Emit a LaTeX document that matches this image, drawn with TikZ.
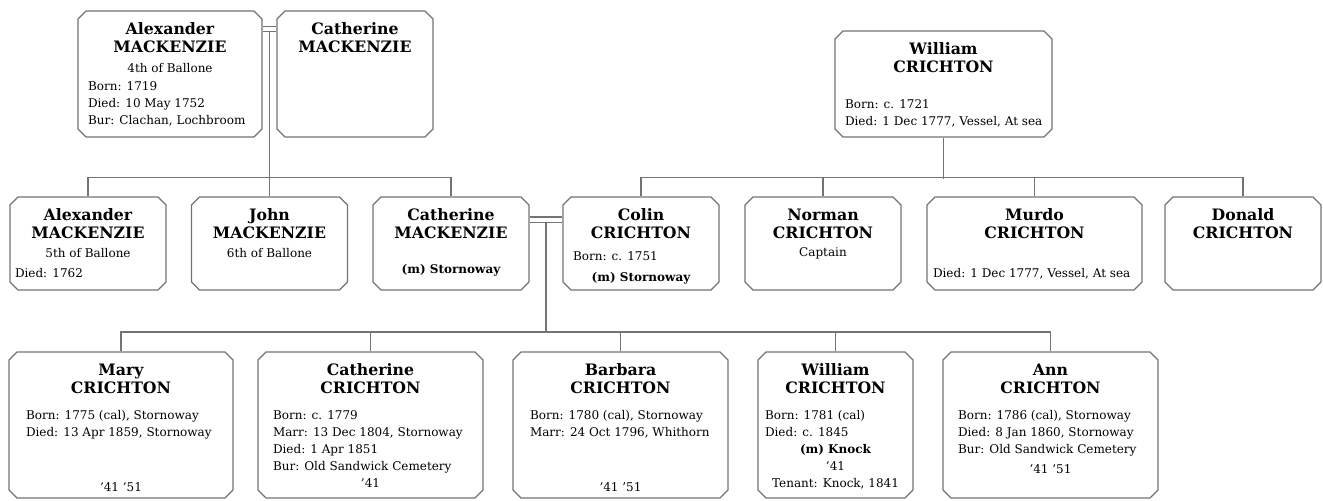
\documentclass[tikz,border=0pt]{standalone}
\usepackage{fontspec}
\setmainfont{DejaVu Serif}
\usetikzlibrary{shapes.misc}

\newcommand{\namefont}{\fontsize{11.8}{14}\selectfont\bfseries}
\newcommand{\infofont}{\fontsize{9}{12.75}\selectfont}
% card body, width and height given in image pixels (chamfer adds 4px all round)
\newcommand{\card}[3]{\parbox[c][\dimexpr(#2pt-8pt)*3/4\relax][t]{\dimexpr(#1pt-8pt)*3/4\relax}{\centering#3\par}}
\newcommand{\pname}[2]{{\namefont\rule{0pt}{14.25pt}#1\\#2\par}}
\newcommand{\ctrline}[1]{{\centering#1\par}}
\newcommand{\info}[2]{{\leftskip=\dimexpr(#1pt-4pt)*3/4\relax\rightskip=-3em plus 1fil #2\par}}

\begin{document}
\begin{tikzpicture}[x=0.75pt, y=-0.75pt,
    person/.style={chamfered rectangle, chamfered rectangle sep=3pt,
      draw=black!55, line width=0.9pt, inner sep=0pt},
    link/.style={draw=black!55, line width=0.9pt},
    couple/.style={link, double=white, double distance=3pt}
  ]
  \useasboundingbox (0,0) rectangle (1323,500);

  % Mackenzie parents
  \node[person] (amack) at (170,74) {\card{184}{126}{\pname{Alexander}{MACKENZIE}
    \vspace{2.25pt}\infofont\ctrline{4th of Ballone}\vspace{0.75pt}
    \info{10}{Born: 1719\\Died: 10 May 1752\\Bur: Clachan, Lochbroom}}};
  \node[person] (cmack) at (355,74) {\card{156}{126}{\pname{Catherine}{MACKENZIE}}};

  % Crichton father
  \node[person] (wcri) at (943.5,84) {\card{217}{106}{\pname{William}{CRICHTON}
    \vspace{14.25pt}\infofont
    \info{10}{Born: c. 1721\\Died: 1 Dec 1777, Vessel, At sea}}};

  % Second row
  \node[person] (amack5) at (88,243.5) {\card{156}{93}{\pname{Alexander}{MACKENZIE}
    \vspace{1.5pt}\infofont\ctrline{5th of Ballone}\vspace{2.25pt}
    \info{5}{Died: 1762}}};
  \node[person] (jmack) at (269.5,243.5) {\card{156}{93}{\pname{John}{MACKENZIE}
    \vspace{1.5pt}\infofont\ctrline{6th of Ballone}}};
  \node[person] (cmack2) at (451,243.5) {\card{156}{93}{\pname{Catherine}{MACKENZIE}
    \vspace{13.5pt}\infofont\ctrline{\bfseries (m) Stornoway}}};
  \node[person] (ccri) at (641,243.5) {\card{156}{93}{\pname{Colin}{CRICHTON}
    \vspace{3.75pt}\infofont\info{10}{Born: c. 1751}
    \vspace{3pt}\ctrline{\bfseries (m) Stornoway}}};
  \node[person] (ncri) at (823,243.5) {\card{156}{93}{\pname{Norman}{CRICHTON}
    \vspace{0.75pt}\infofont\ctrline{Captain}}};
  \node[person] (mcri) at (1034.5,243.5) {\card{215}{93}{\pname{Murdo}{CRICHTON}
    \vspace{16.5pt}\infofont\info{6}{Died: 1 Dec 1777, Vessel, At sea}}};
  \node[person] (dcri) at (1243,243.5) {\card{156}{93}{\pname{Donald}{CRICHTON}}};

  % Third row
  \node[person] (mary) at (121,425) {\card{224}{146}{\pname{Mary}{CRICHTON}
    \vspace{6.75pt}\infofont
    \info{17}{Born: 1775 (cal), Stornoway\\Died: 13 Apr 1859, Stornoway}
    \vspace{28.5pt}\ctrline{’41 ’51}}};
  \node[person] (ccri2) at (370.5,425) {\card{225}{146}{\pname{Catherine}{CRICHTON}
    \vspace{6.75pt}\infofont
    \info{15}{Born: c. 1779\\Marr: 13 Dec 1804, Stornoway\\Died: 1 Apr 1851\\Bur: Old Sandwick Cemetery}
    \ctrline{’41}}};
  \node[person] (bcri) at (620.5,425) {\card{215}{146}{\pname{Barbara}{CRICHTON}
    \vspace{6.75pt}\infofont
    \info{17}{Born: 1780 (cal), Stornoway\\Marr: 24 Oct 1796, Whithorn}
    \vspace{28.5pt}\ctrline{’41 ’51}}};
  \node[person] (wcri2) at (835.5,425) {\card{155}{146}{\pname{William}{CRICHTON}
    \vspace{6.75pt}\infofont
    \info{7}{Born: 1781 (cal)\\Died: c. 1845}
    \ctrline{\bfseries (m) Knock}\ctrline{’41}\ctrline{Tenant: Knock, 1841}}};
  \node[person] (acri) at (1050.5,425) {\card{215}{146}{\pname{Ann}{CRICHTON}
    \vspace{6.75pt}\infofont
    \info{15}{Born: 1786 (cal), Stornoway\\Died: 8 Jan 1860, Stornoway\\Bur: Old Sandwick Cemetery}
    \vspace{2.25pt}\ctrline{’41 ’51}}};

  % Marriages and descent lines
  \coordinate (wed1) at (269.5,29);
  \draw[couple] (amack.east |- wed1) -- (cmack.west |- wed1);
  \draw[link] ([yshift=-1.5pt]wed1) -- (jmack.north);
  \draw[link] (amack5.north) -- ++(0,-19) -| (cmack2.north);

  \draw[link] (wcri.south) -- ++(0,41);
  \draw[link] (ccri.north) -- ++(0,-19) -| (dcri.north);
  \draw[link] (ncri.north) -- ++(0,-19);
  \draw[link] (mcri.north) -- ++(0,-19);

  \coordinate (wed2) at (546,219.5);
  \coordinate (kids) at (546,332);
  \draw[couple] (cmack2.east |- wed2) -- (ccri.west |- wed2);
  \draw[link] ([yshift=-1.5pt]wed2) -- (kids);
  \draw[link] (mary.north) -- (mary.north |- kids) -| (acri.north);
  \draw[link] (ccri2.north) -- ++(0,-20);
  \draw[link] (bcri.north) -- ++(0,-20);
  \draw[link] (wcri2.north) -- ++(0,-20);
\end{tikzpicture}
\end{document}
